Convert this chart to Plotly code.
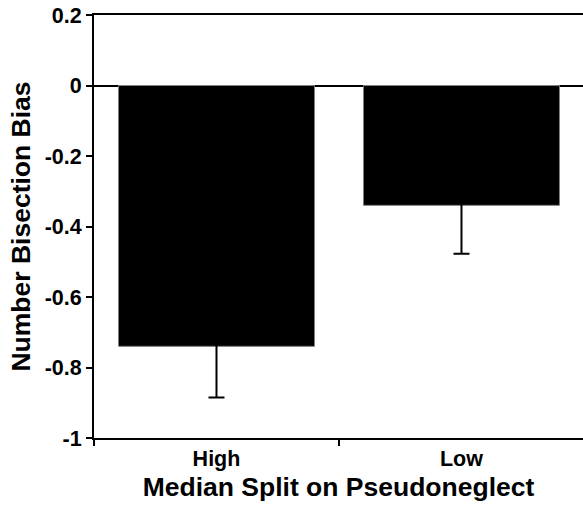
import plotly.graph_objects as go

categories = ["High", "Low"]
bias_means = [-0.74, -0.34]
bias_err = [0.145, 0.137]
y_tickvals = [0.2, 0, -0.2, -0.4, -0.6, -0.8, -1]
y_ticktext = ["0.2", "0", "-0.2", "-0.4", "-0.6", "-0.8", "-1"]

fig = go.Figure()
fig.add_trace(go.Bar(
    x=categories,
    y=bias_means,
    width=0.8,
    marker=dict(color="black", line=dict(color="#7f7f7f", width=1)),
    # upper half of the error bar is hidden inside the black bar
    error_y=dict(type="data", symmetric=True, array=bias_err,
                 color="black", thickness=2, width=8),
    showlegend=False,
))

font_family = "Liberation Sans, Arial, sans-serif"

fig.update_layout(
    width=583, height=506,
    margin=dict(l=94, r=0, t=15, b=68),
    paper_bgcolor="white", plot_bgcolor="white",
    font=dict(family=font_family, color="black"),
)
fig.update_xaxes(
    type="category",
    range=[-0.5, 1.496],
    automargin=False,
    showline=True, linecolor="black", linewidth=2, mirror=True,
    ticks="outside", tickson="boundaries", ticklen=6, tickwidth=2, tickcolor="black",
    tickfont=dict(size=21.5, weight="bold", family=font_family),
    showgrid=False,
    title=dict(text="Median Split on Pseudoneglect",
               font=dict(size=26.5, weight="bold", family=font_family), standoff=8),
)
fig.update_yaxes(
    range=[-1, 0.2],
    automargin=False,
    tickvals=y_tickvals, ticktext=y_ticktext,
    showline=True, linecolor="black", linewidth=2,
    ticks="outside", ticklen=6, tickwidth=2, tickcolor="black",
    tickfont=dict(size=21.5, weight="bold", family=font_family),
    showgrid=False,
    zeroline=True, zerolinecolor="black", zerolinewidth=1.5,
    title=dict(text="Number Bisection Bias",
               font=dict(size=26.5, weight="bold", family=font_family), standoff=6),
)

fig.write_html(
    "out.html",
    config={"displayModeBar": False},
    post_script="document.body.style.margin='0';document.body.style.overflow='hidden';",
)
